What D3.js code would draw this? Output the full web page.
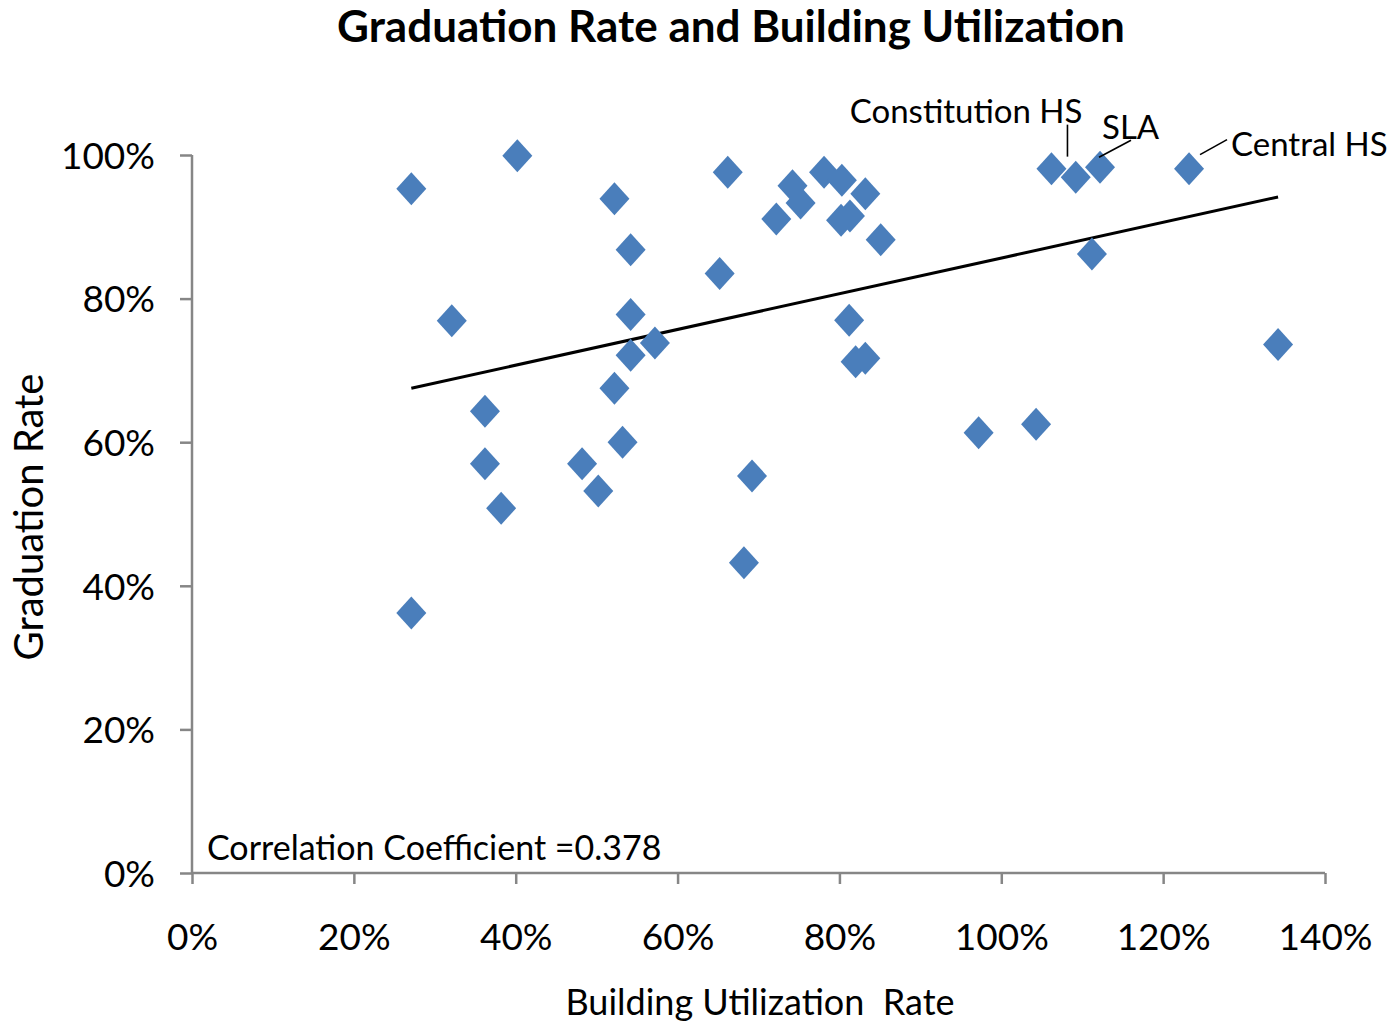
<!DOCTYPE html>
<html>
<head>
<meta charset="utf-8">
<script src="https://cdn.jsdelivr.net/npm/d3@7"></script>
<style>
  body { margin: 0; background: #ffffff; }
  text { font-family: Lato, "Open Sans", sans-serif; fill: #000; }
</style>
</head>
<body>
<div id="main"></div>
<script>
// building utilization rate (%), one per school
const utilization = [
    27.1, 27.1, 32.1, 36.2, 36.2, 38.2, 40.2, 48.2, 50.2, 52.2,
    52.2, 53.2, 54.2, 54.2, 54.2, 57.2, 65.2, 66.2, 68.2, 69.2,
    72.2, 74.2, 75.2, 78.1, 80.3, 80.2, 81.3, 83.2, 85.1, 81.2,
    82.0, 83.2, 97.2, 104.3, 106.2, 109.2, 112.2, 111.2, 123.2, 134.2
];
// graduation rate (%), same order
const graduation = [
    95.3, 36.2, 76.9, 64.3, 57.0, 50.8, 99.9, 57.0, 53.2, 93.9,
    67.5, 60.0, 86.8, 77.8, 72.1, 73.8, 83.5, 97.6, 43.2, 55.3,
    91.1, 95.7, 93.3, 97.6, 96.5, 90.9, 91.5, 94.6, 88.2, 77.0,
    71.2, 71.7, 61.3, 62.5, 98.1, 96.9, 98.3, 86.2, 98.1, 73.6
];
const labelNames = ["Constitution HS", "SLA", "Central HS"];
const labelIndex = [34, 36, 38];
const xTicks = [0, 20, 40, 60, 80, 100, 120, 140];
const yTicks = [0, 20, 40, 60, 80, 100];
const correlationText = "Correlation Coefficient =0.378";

const ctx = {
    width: 1394,
    height: 1025,
    left: 192,
    right: 1325,
    top: 155,
    bottom: 873,
    axisGrey: "#868686",
    pointBlue: "#4a7ebb"
};

function createViz(){
    let svg = d3.select("#main").append("svg")
        .attr("width", ctx.width)
        .attr("height", ctx.height);

    let x = d3.scaleLinear().domain([0, 140]).range([ctx.left, ctx.right]);
    let y = d3.scaleLinear().domain([0, 100]).range([ctx.bottom, ctx.top]);

    svg.append("text")
        .attr("x", 731)
        .attr("y", 42)
        .attr("text-anchor", "middle")
        .attr("font-size", "44px")
        .attr("font-weight", "bold")
        .text("Graduation Rate and Building Utilization");

    // axes
    let xAxis = d3.axisBottom(x).tickValues(xTicks).tickSize(11).tickFormat(d => d + "%");
    let gx = svg.append("g").attr("transform", "translate(0," + ctx.bottom + ")").call(xAxis);
    gx.select(".domain").attr("stroke", ctx.axisGrey).attr("stroke-width", 2.5);
    gx.selectAll(".tick line").attr("stroke", ctx.axisGrey).attr("stroke-width", 2.5);
    gx.selectAll(".tick text")
        .attr("y", 77).attr("dy", 0)
        .attr("font-size", "37px")
        .attr("font-family", "Lato");

    let yAxis = d3.axisLeft(y).tickValues(yTicks).tickSize(12).tickFormat(d => d + "%");
    let gy = svg.append("g").attr("transform", "translate(" + ctx.left + ",0)").call(yAxis);
    gy.select(".domain").attr("stroke", ctx.axisGrey).attr("stroke-width", 2.5);
    gy.selectAll(".tick line").attr("stroke", ctx.axisGrey).attr("stroke-width", 2.5);
    gy.selectAll(".tick text")
        .attr("x", -37).attr("dy", "0.36em")
        .attr("font-size", "37px")
        .attr("font-family", "Lato");
    // drop outer tick stubs of the domain paths
    gx.select(".domain").attr("d", "M" + ctx.left + ",0H" + ctx.right);
    gy.select(".domain").attr("d", "M0," + ctx.bottom + "V" + ctx.top);

    svg.append("text")
        .attr("x", 760)
        .attr("y", 1015)
        .attr("text-anchor", "middle")
        .attr("font-size", "36px")
        .style("white-space", "pre")
        .text("Building Utilization  Rate");

    svg.append("text")
        .attr("transform", "translate(43,517) rotate(-90)")
        .attr("text-anchor", "middle")
        .attr("font-size", "40px")
        .text("Graduation Rate");

    // least squares trend line
    let mx = d3.mean(utilization), my = d3.mean(graduation);
    let sxy = d3.sum(utilization, (v, i) => (v - mx) * (graduation[i] - my));
    let sxx = d3.sum(utilization, v => (v - mx) * (v - mx));
    let slope = sxy / sxx;
    let icpt = my - slope * mx;
    let x0 = d3.min(utilization), x1 = d3.max(utilization);
    svg.append("line")
        .attr("x1", x(x0)).attr("y1", y(icpt + slope * x0))
        .attr("x2", x(x1)).attr("y2", y(icpt + slope * x1))
        .attr("stroke", "black")
        .attr("stroke-width", 3);

    // diamonds
    svg.append("g").selectAll("path")
        .data(utilization)
        .enter()
        .append("path")
        .attr("d", "M0,-16.5L15,0L0,16.5L-15,0Z")
        .attr("transform", (d, i) => "translate(" + x(d) + "," + y(graduation[i]) + ")")
        .attr("fill", ctx.pointBlue);

    // callouts
    let labelG = svg.append("g");
    let offsets = [
        {lx1: 16, ly1: -12, lx2: 16, ly2: -44, tx: 31, ty: -46, anchor: "end"},
        {lx1: -1, ly1: -10, lx2: 31, ly2: -27, tx: 2, ty: -28, anchor: "start"},
        {lx1: 11, ly1: -14, lx2: 38, ly2: -29, tx: 42, ty: -13, anchor: "start"}
    ];
    labelNames.forEach((name, k) => {
        let i = labelIndex[k];
        let px = x(utilization[i]), py = y(graduation[i]);
        let o = offsets[k];
        labelG.append("line")
            .attr("x1", px + o.lx1).attr("y1", py + o.ly1)
            .attr("x2", px + o.lx2).attr("y2", py + o.ly2)
            .attr("stroke", "black").attr("stroke-width", 1.6);
        labelG.append("text")
            .attr("x", px + o.tx).attr("y", py + o.ty)
            .attr("text-anchor", o.anchor)
            .attr("font-size", "33px")
            .text(name);
    });

    svg.append("text")
        .attr("x", 207)
        .attr("y", 860)
        .attr("font-size", "34px")
        .text(correlationText);
}

createViz();
</script>
</body>
</html>
